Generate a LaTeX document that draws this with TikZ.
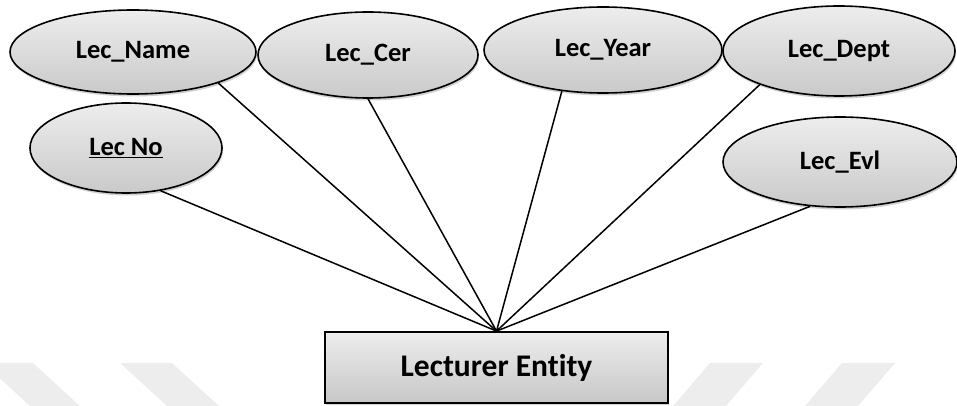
\documentclass[tikz,border=0pt]{standalone}
\usepackage{fontspec}
\setmainfont{Carlito}[Ligatures=NoCommon]
\usetikzlibrary{shapes.geometric,shadows}
\begin{document}
\begin{tikzpicture}[x=1pt,y=-1pt,
  attr/.style={ellipse,draw=black,line width=1.6pt,inner sep=0pt,
    top color=black!7,bottom color=black!21,
    drop shadow={shadow xshift=1pt,shadow yshift=-2.5pt,opacity=0.18,fill=black},
    font=\bfseries\fontsize{26.5}{30}\selectfont},
  entbox/.style={rectangle,draw=black,line width=1.8pt,inner sep=0pt,
    top color=black!7,bottom color=black!22,
    drop shadow={shadow xshift=1pt,shadow yshift=-2pt,opacity=0.18,fill=black},
    font=\bfseries\fontsize{31.5}{36}\selectfont},
  link/.style={line width=1.5pt,draw=black}]
  \useasboundingbox (0,0) rectangle (957,406);

  % faint background bands
  \fill[black!7] (-17,363) -- (33,363) -- (80,406) -- (30,406) -- cycle;
  \fill[black!7] (120,363) -- (172,363) -- (219,406) -- (167,406) -- cycle;
  \fill[black!7] (710,363) -- (763,363) -- (726,406) -- (673,406) -- cycle;
  \fill[black!7] (842,363) -- (895,363) -- (858,406) -- (805,406) -- cycle;

  % attributes
  \node[attr,minimum width=246pt,minimum height=84pt] (name) at (133,52) {Lec\_Name};
  \node[attr,minimum width=220pt,minimum height=86pt] (cer)  at (368,55) {Lec\_Cer};
  \node[attr,minimum width=238pt,minimum height=86pt] (year) at (603,50) {Lec\_Year};
  \node[attr,minimum width=232pt,minimum height=90pt] (dept) at (839,51) {Lec\_Dept};
  \node[attr,minimum width=192pt,minimum height=90pt] (no)   at (126,148) {\underline{Lec No}};
  \node[attr,minimum width=234pt,minimum height=90pt] (evl)  at (840,162) {Lec\_Evl};

  % entity
  \node[entbox,minimum width=343pt,minimum height=71pt] (ent) at (496.5,367.5) {Lecturer Entity};
  \coordinate (hub) at (ent.north);

  % connectors
  \draw[link] (no.-51)    -- (hub);
  \draw[link] (name.-20)  -- (hub);
  \draw[link] (cer.-90)   -- (hub);
  \draw[link] (year.-135) -- (hub);
  \draw[link] (dept.-157) -- (hub);
  \draw[link] (evl.-124)  -- (hub);
\end{tikzpicture}
\end{document}
